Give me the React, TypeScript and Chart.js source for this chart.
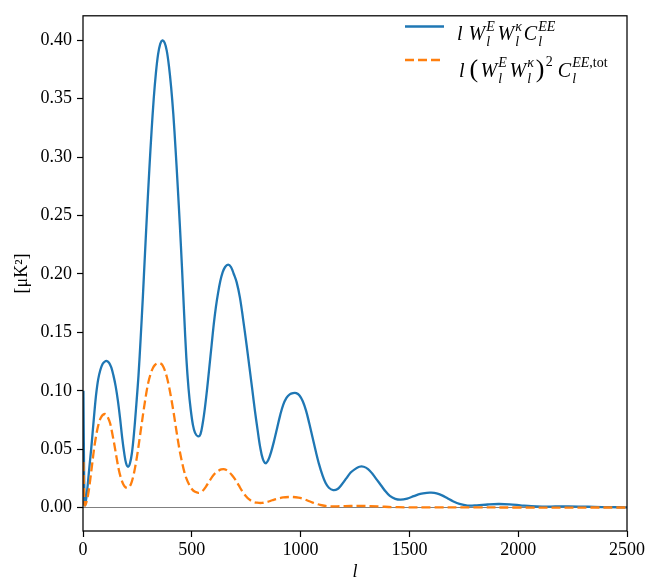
import React, { useEffect, useRef } from 'react';
import { Chart, registerables } from 'chart.js';
Chart.register(...registerables);

// Blue series: l W^E W^kappa C^EE  (multipole l)
const blueL = [2, 4, 7, 9, 15, 22, 30, 38, 46, 54, 61, 70, 80, 90, 100, 110, 120, 130, 140, 150, 160, 170, 180, 190, 198, 207, 216, 225, 235, 245, 255, 265, 275, 285, 295, 305, 315, 325, 335, 345, 355, 365, 375, 385, 395, 405, 415, 425, 435, 445, 455, 465, 475, 485, 495, 505, 515, 529, 540, 550, 560, 570, 580, 591, 601, 611, 621, 631, 641, 653, 667, 680, 693, 706, 721, 736, 752, 765, 778, 790, 802, 814, 826, 839, 852, 865, 878, 892, 906, 920, 935, 950, 965, 980, 995, 1010, 1025, 1040, 1055, 1070, 1085, 1100, 1115, 1130, 1150, 1170, 1190, 1210, 1230, 1250, 1270, 1290, 1310, 1330, 1350, 1370, 1390, 1410, 1435, 1460, 1490, 1520, 1550, 1580, 1600, 1625, 1650, 1675, 1700, 1730, 1767, 1810, 1860, 1910, 1960, 2010, 2060, 2110, 2170, 2230, 2290, 2350, 2420, 2500];
const blueV = [0.100, 0.050, 0.004, 0.002, 0.008, 0.020, 0.036, 0.051, 0.068, 0.085, 0.098, 0.110, 0.118, 0.123, 0.125, 0.1255, 0.124, 0.120, 0.113, 0.104, 0.092, 0.077, 0.060, 0.046, 0.038, 0.035, 0.038, 0.047, 0.065, 0.088, 0.113, 0.145, 0.180, 0.218, 0.255, 0.290, 0.322, 0.350, 0.372, 0.388, 0.397, 0.400, 0.398, 0.391, 0.378, 0.360, 0.337, 0.308, 0.276, 0.242, 0.205, 0.165, 0.128, 0.102, 0.084, 0.071, 0.064, 0.061, 0.063, 0.072, 0.085, 0.101, 0.119, 0.139, 0.157, 0.172, 0.184, 0.194, 0.201, 0.206, 0.208, 0.206, 0.200, 0.193, 0.180, 0.161, 0.139, 0.120, 0.101, 0.083, 0.067, 0.052, 0.042, 0.038, 0.041, 0.048, 0.057, 0.068, 0.079, 0.088, 0.094, 0.097, 0.098, 0.098, 0.096, 0.091, 0.083, 0.072, 0.060, 0.048, 0.037, 0.028, 0.021, 0.017, 0.015, 0.016, 0.020, 0.025, 0.030, 0.033, 0.035, 0.035, 0.033, 0.029, 0.024, 0.019, 0.014, 0.010, 0.0075, 0.0068, 0.0078, 0.0098, 0.0118, 0.0127, 0.0128, 0.0122, 0.0105, 0.0080, 0.0055, 0.0032, 0.0018, 0.0020, 0.0027, 0.0031, 0.0028, 0.0020, 0.0012, 0.0009, 0.0010, 0.0011, 0.0009, 0.0006, 0.0004, 0.0003];

// Orange series: l (W^E W^kappa)^2 C^EE,tot
const orangeL = [2, 4, 7, 10, 18, 26, 34, 42, 50, 58, 66, 74, 82, 92, 104, 115, 125, 135, 145, 155, 165, 175, 185, 195, 208, 220, 230, 240, 250, 260, 270, 280, 290, 300, 310, 320, 330, 343, 355, 365, 375, 385, 395, 405, 415, 425, 435, 445, 455, 465, 475, 487, 500, 515, 532, 548, 565, 582, 600, 618, 635, 652, 668, 684, 700, 716, 732, 748, 764, 782, 800, 822, 845, 870, 895, 920, 945, 965, 990, 1015, 1040, 1065, 1090, 1115, 1140, 1180, 1230, 1270, 1320, 1370, 1420, 1480, 1600, 1800, 2000, 2500];
const orangeV = [0.039, 0.018, 0.003, 0.002, 0.006, 0.014, 0.025, 0.037, 0.049, 0.059, 0.067, 0.073, 0.077, 0.0795, 0.080, 0.077, 0.072, 0.063, 0.053, 0.042, 0.032, 0.025, 0.020, 0.0175, 0.017, 0.020, 0.026, 0.035, 0.046, 0.059, 0.072, 0.085, 0.097, 0.107, 0.114, 0.119, 0.122, 0.1235, 0.1235, 0.122, 0.118, 0.112, 0.104, 0.094, 0.083, 0.071, 0.059, 0.048, 0.039, 0.031, 0.025, 0.020, 0.016, 0.0135, 0.0127, 0.014, 0.018, 0.023, 0.028, 0.031, 0.0327, 0.0328, 0.031, 0.028, 0.024, 0.019, 0.014, 0.010, 0.007, 0.005, 0.0042, 0.004, 0.0048, 0.0063, 0.0077, 0.0087, 0.0091, 0.0091, 0.0085, 0.0073, 0.0055, 0.0037, 0.0023, 0.0014, 0.0011, 0.0012, 0.0014, 0.0015, 0.0013, 0.0009, 0.0005, 0.0003, 0.0003, 0.0002, 0.0001, 0.0001];

const yTicks = [0, 0.05, 0.10, 0.15, 0.20, 0.25, 0.30, 0.35, 0.40];
const xTicks = [0, 500, 1000, 1500, 2000, 2500];

const BLUE = '#1f77b4';
const ORANGE = '#ff7f0e';
const SERIF = "'Liberation Serif', 'DejaVu Serif', serif";

const framePlugin = {
  id: 'frame',
  afterDraw(chart: any) {
    const { ctx, chartArea: a } = chart;
    ctx.save();
    ctx.strokeStyle = '#000';
    ctx.lineWidth = 1.25;
    ctx.strokeRect(a.left, a.top, a.right - a.left, a.bottom - a.top);
    // legend handles
    ctx.lineWidth = 2.3;
    ctx.strokeStyle = BLUE;
    ctx.beginPath();
    ctx.moveTo(405, 26.5);
    ctx.lineTo(444, 26.5);
    ctx.stroke();
    ctx.strokeStyle = ORANGE;
    ctx.setLineDash([9, 4]);
    ctx.beginPath();
    ctx.moveTo(405, 60);
    ctx.lineTo(444, 60);
    ctx.stroke();
    ctx.restore();
  },
};

function SS({ sup, sub }: { sup: React.ReactNode; sub: React.ReactNode }) {
  return (
    <span
      style={{
        display: 'inline-block',
        verticalAlign: '-0.45em',
        fontSize: '0.7em',
        lineHeight: '1.1',
        textAlign: 'left',
        marginLeft: '0.08em',
        marginRight: '0.12em',
      }}
    >
      <span style={{ display: 'block' }}>{sup}</span>
      <span style={{ display: 'block' }}>{sub}</span>
    </span>
  );
}

const W = () => <i style={{ marginLeft: '0.05em' }}>W</i>;

export default function App() {
  const ref = useRef<HTMLCanvasElement>(null);
  useEffect(() => {
    if (!ref.current) return;
    const chart = new Chart(ref.current, {
      type: 'line',
      data: {
        datasets: [
          {
            label: 'l W^E W^k C^EE',
            data: blueL.map((l, i) => ({ x: l, y: blueV[i] })),
            borderColor: BLUE,
            borderWidth: 2.3,
            pointRadius: 0,
            fill: false,
            tension: 0.35,
            order: 1,
          },
          {
            label: 'l (W^E W^k)^2 C^EE,tot',
            data: orangeL.map((l, i) => ({ x: l, y: orangeV[i] })),
            borderColor: ORANGE,
            borderWidth: 2.3,
            borderDash: [9, 4],
            pointRadius: 0,
            fill: false,
            tension: 0.35,
            order: 0,
          },
        ],
      },
      options: {
        animation: false,
        responsive: false,
        devicePixelRatio: 1,
        layout: { padding: { top: 1, right: 41, left: 0, bottom: 0 } },
        plugins: { legend: { display: false }, tooltip: { enabled: false } },
        scales: {
          x: {
            type: 'linear',
            min: 0,
            max: 2500,
            afterFit: (s: any) => { s.height = 53; },
            afterBuildTicks: (s: any) => { s.ticks = xTicks.map((v) => ({ value: v })); },
            border: { display: false },
            grid: { drawOnChartArea: false, drawTicks: true, tickLength: 6, tickColor: '#000', tickWidth: 1.2 },
            ticks: { color: '#000', font: { family: SERIF, size: 18 }, padding: 2, maxRotation: 0, autoSkip: false, callback: (v: any) => String(v) },
            title: { display: true, text: 'l', color: '#000', font: { family: SERIF, size: 18, style: 'italic' }, padding: { top: 0, bottom: 1 } },
          },
          y: {
            type: 'linear',
            min: -0.02,
            max: 0.421,
            afterFit: (s: any) => { s.width = 83; },
            afterBuildTicks: (s: any) => { s.ticks = yTicks.map((v) => ({ value: v })); },
            border: { display: false },
            grid: {
              drawOnChartArea: true,
              drawTicks: true,
              tickLength: 6,
              tickColor: '#000',
              tickWidth: 1.2,
              lineWidth: 1,
              color: (c: any) => (c.tick && Math.abs(c.tick.value) < 1e-9 ? '#808080' : 'rgba(0,0,0,0)'),
            },
            ticks: { color: '#000', font: { family: SERIF, size: 18 }, padding: 5, autoSkip: false, callback: (v: any) => Number(v).toFixed(2) },
            title: { display: true, text: '[μK²]', color: '#000', font: { family: SERIF, size: 18 }, padding: { top: 11, bottom: 0 } },
          },
        },
      },
      plugins: [framePlugin],
    } as any);
    return () => chart.destroy();
  }, []);

  const rowStyle: React.CSSProperties = {
    position: 'absolute',
    left: 457,
    fontFamily: SERIF,
    fontSize: 20,
    lineHeight: '20px',
    whiteSpace: 'nowrap',
    color: '#000',
  };

  return (
    <div style={{ position: 'absolute', left: 0, top: 0, width: 668, height: 584, background: '#fff' }}>
      <canvas ref={ref} width={668} height={584} style={{ display: 'block', width: 668, height: 584 }} />
      <div style={{ ...rowStyle, top: 19 }}>
        <i>l</i>&nbsp;<W /><SS sup={<i>E</i>} sub={<i>l</i>} /><W /><SS sup={<i>κ</i>} sub={<i>l</i>} /><i>C</i><SS sup={<i>EE</i>} sub={<i>l</i>} />
      </div>
      <div style={{ ...rowStyle, top: 52, left: 459 }}>
        <i>l</i>&nbsp;<span style={{ fontSize: '1.3em', marginRight: '0.05em' }}>(</span><W /><SS sup={<i>E</i>} sub={<i>l</i>} /><W /><SS sup={<i>κ</i>} sub={<i>l</i>} /><span style={{ fontSize: '1.3em' }}>)</span><sup style={{ fontSize: '0.7em', verticalAlign: '0.75em', marginLeft: '0.1em' }}>2</sup>&nbsp;<i>C</i><SS sup={<span><i>EE</i>,tot</span>} sub={<i>l</i>} />
      </div>
    </div>
  );
}
